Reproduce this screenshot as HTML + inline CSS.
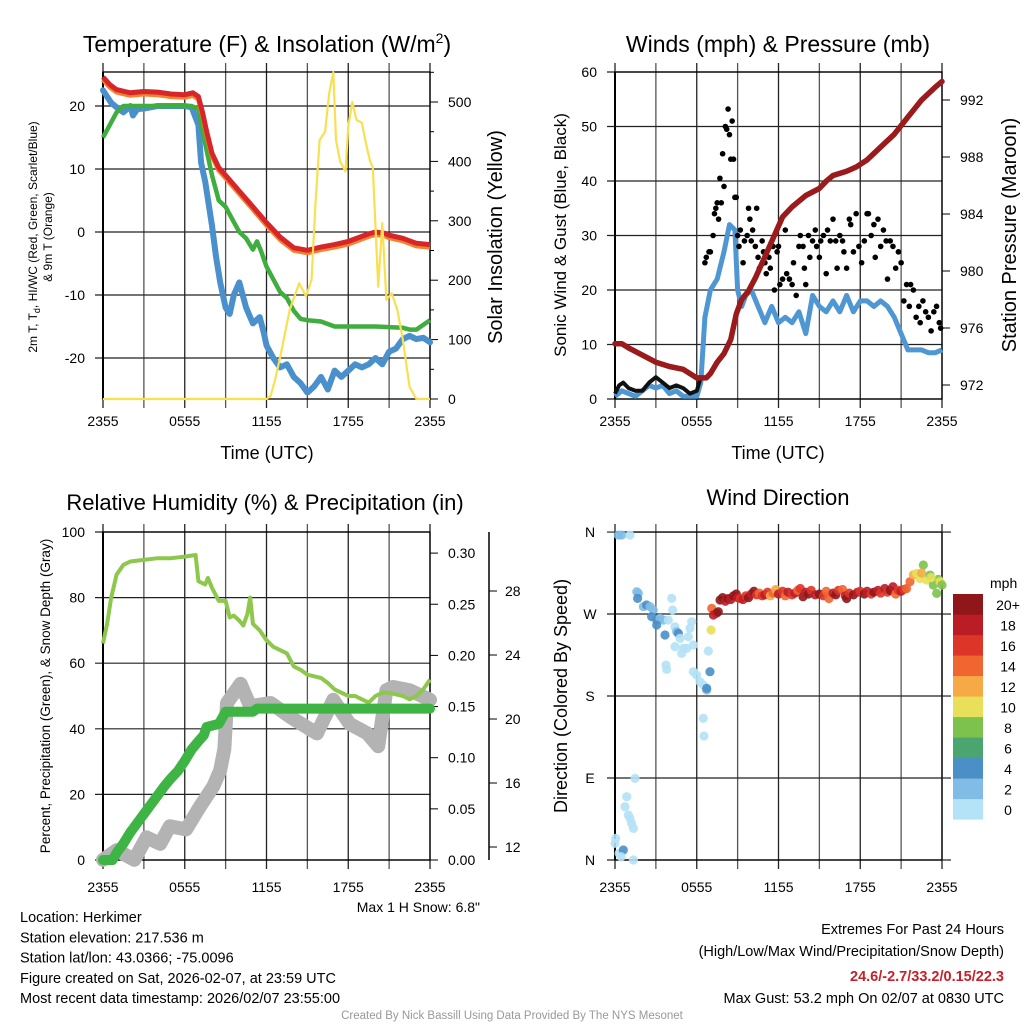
<!DOCTYPE html>
<html><head><meta charset="utf-8"><style>
html,body{margin:0;padding:0;background:#fff;}
svg{display:block;font-family:"Liberation Sans",Arial,sans-serif;}
</style></head><body>
<svg id="fig" width="1024" height="1024" viewBox="0 0 1024 1024">
<rect width="1024" height="1024" fill="#fff"/>
<g id="layer"></g>
</svg>
<script>
// ---------- DATA (hours since 2355 UTC) ----------
const timeLabels = ["2355","0555","1155","1755","2355"];
// Temperature panel
const tempHours = [0,0.5,1,2,3,4,5,6,6.6,7,7.3,7.6,8,8.5,9,10,11,12,13,14,15,16,17,18,19,19.5,20,20.7,21,22,23,24];
const tempVals  = [24.6,23.4,22.6,22.1,22.3,22.2,21.9,21.8,22.1,21.5,19,16,12.5,10.2,9,6.5,4,1.5,-0.8,-2.5,-2.9,-2.4,-2.0,-1.5,-0.7,-0.3,0,-0.2,-0.5,-1.0,-1.8,-2.0];
const dewHours = [0,0.5,1,1.5,2,3,4,5,6,6.5,7,7.5,8,8.5,9,9.5,10,10.5,11,11.3,11.6,12,12.5,13,13.5,14,14.5,15,16,17,18,19,20,21,22,22.5,23,24];
const dewVals  = [15,17,19,20,20,20,20,20,20,20,19.5,14,9,5,4,2,0,-1,-2.8,-1.5,-3,-5.5,-7.5,-9.5,-10.5,-12.5,-13.8,-14,-14.2,-15,-15,-15,-15,-15.1,-15.2,-15.5,-15.5,-14];
const wcHours = [0,0.3,0.6,1,1.5,2,2.2,2.5,3,4,5,6,6.5,7,7.2,7.5,8,8.3,8.6,9,9.3,9.6,10,10.5,11,11.5,11.8,12,12.5,13,13.5,14,14.5,15,15.5,16,16.5,17,17.5,18,18.5,19,19.5,20,20.5,21,21.5,22,22.5,23,23.5,24];
const wcVals  = [22.5,21.5,20.5,19.8,19,20,18.5,19.5,19.6,20,20,20,19.8,17,11,8,1,-4,-8,-12,-13,-10,-8,-12,-14.5,-13.5,-16,-18,-20,-21.5,-21,-23,-24,-25.5,-24.5,-23,-25,-22,-23,-22,-21,-21.5,-21,-20,-21,-19,-18.5,-17,-16.5,-17,-16.8,-17.5];
const solarHours = [0,12,12.3,12.6,13,13.7,14.4,14.9,15.3,15.6,15.9,16.3,16.6,16.9,17.1,17.4,17.8,18.0,18.3,18.6,19,19.3,19.6,19.8,20.0,20.2,20.5,20.8,21.2,21.6,22,22.5,23,24];
const solarVals  = [0,0,5,30,70,150,195,173,200,330,436,450,515,550,436,400,383,460,500,470,465,430,400,390,290,189,296,167,178,150,100,20,0,0];
// Winds panel
const windHours = [0,0.5,1,1.5,2,2.5,3,3.5,4,4.5,5,5.5,6,6.3,6.6,7,7.5,8,8.4,8.8,9,9.3,9.6,10,10.5,11,11.5,12,12.5,13,13.5,14,14.5,15,15.5,16,16.5,17,17.5,18,18.5,19,19.5,20,20.5,21,21.5,22,22.5,23,23.5,24];
const windVals  = [0.5,1.5,1,0.5,1.5,2.5,2,2.5,1,1.5,0.5,0.5,0.5,3,15,20,22,27,32,31,20,17,19,20,17,14,17,14,15,14,16,12,19,17,16,18,16,19,16,18,18,17,18,17,15,12,9,9,9,8.5,8.5,9];
const gustLowHours = [0,0.3,0.6,1,1.5,2,2.5,3,3.5,4,4.5,5,5.5,6,6.3];
const gustLowVals  = [1,2.5,3,2,1.5,1.5,3,4,3,2,2.5,2,1,1.5,4];
const gustHours = [6.6,6.7,6.9,7.0,7.2,7.3,7.4,7.5,7.6,7.7,7.8,7.9,8.0,8.1,8.2,8.3,8.4,8.5,8.6,8.7,8.8,8.9,9.0,9.1,9.2,9.4,9.5,9.7,9.8,9.9,10,10.1,10.3,10.4,10.5,10.6,10.8,10.9,11,11.1,11.3,11.4,11.6,11.7,11.9,12,12.1,12.3,12.5,12.6,12.8,13,13.1,13.3,13.5,13.6,13.8,13.9,14,14.2,14.3,14.5,14.7,14.8,15,15.1,15.3,15.5,15.6,15.8,16,16.2,16.3,16.5,16.7,16.8,17,17.2,17.3,17.5,17.7,17.9,18.1,18.3,18.5,18.6,18.8,19,19.1,19.3,19.5,19.7,19.9,20,20.2,20.4,20.6,20.8,21,21.2,21.4,21.6,21.7,21.9,22.1,22.3,22.4,22.6,22.8,23,23.2,23.4,23.6,23.8,23.9];
const gustVals  = [25,26,27,27,30,34,35,36,33,40.5,36,45,39,50,49.5,53.2,48.5,44,51,44,37,37,30,28,31,25,29,30,35,33,29,31,28,35,26,24,29,27,25,23,26,24,28,20,27,28,21,22,31,23,22,21,25,19,28,30,28,24,21,30,26,29,31,28,26,29,30,23,31,29,33,29,24,30,29,27,24,33,32,27,34,28,25,29,34,34,30,32,26,33,28,31,29,22,29,28,24,27,25,18,21,17,21,20,15,17,14,18,16,15,12.5,16,17,14,13];
const presHours = [0,0.5,1,2,3,4,5,5.5,6,6.7,7,7.5,8,8.5,8.9,9.3,9.8,10.3,11,11.7,12.3,13,14,15,15.5,16,17,17.7,18.5,19.5,20.5,21.5,22.5,23.5,24];
const presVals  = [974.9,974.9,974.6,974.1,973.6,973.3,973.1,972.8,972.5,972.5,972.8,973.6,974.2,975.2,977,978,978.6,979.5,981,982.5,983.8,984.5,985.3,985.8,986.3,986.7,987,987.3,987.8,988.7,989.6,990.8,992,992.9,993.3];
// RH / precip / snow panel
const rhHours = [0,0.3,0.6,1,1.5,2,3,4,5,6,6.8,7,7.5,7.7,8,8.5,9,9.3,9.6,10,10.3,10.6,10.8,11,11.5,12,12.5,13,13.5,14,14.5,15,15.5,16,16.5,17,17.5,18,18.5,19,19.5,20,20.5,21,22,22.5,23,23.5,24];
const rhVals  = [66,72,80,87,90,91,91.5,92,92,92.5,93,85,84,86,83,79,79,74,74.5,73,71.5,75,80,72,70,67,65,64,63,59,58,56.5,56,55.5,54,52,51,50,50,49,48,50,51,51,50,49,50,52,55];
const precipHours = [0,0.7,1,1.5,2,2.5,3,3.5,4,4.5,5,5.5,6,6.5,7,7.4,7.6,8.5,8.8,9,11,11.3,24];
const precipVals  = [0,0,0.007,0.016,0.027,0.036,0.045,0.054,0.063,0.072,0.08,0.087,0.097,0.108,0.116,0.122,0.13,0.133,0.14,0.145,0.145,0.148,0.148];
const snowHours = [0,1,2.3,3.2,4.2,4.9,6.1,7.1,8.1,8.6,8.9,9.1,10.1,10.8,12.3,13.8,15.7,16.9,18.1,19.4,20.2,20.8,21.3,22.5,24];
const snowVals  = [11.2,11.8,11.2,12.6,12.2,13.3,13.1,14.5,15.8,16.8,18.1,21,22.2,20.8,21,20.1,19.1,21.2,19.7,19.1,18.3,21.8,22,21.8,21.2];
// Wind direction panel
const dirHours = [0.24,0.49,1.1,0,0.05,0.3,0.61,0.45,1.35,0.73,0.86,0.98,1.1,1.22,1.35,1.47,1.6,1.71,1.66,2.08,2.32,2.57,2.81,2.69,3.06,3.3,3.55,3.06,3.67,3.91,4.16,4.23,4.4,4.53,4.65,4.77,4.4,5.02,4.89,5.26,5.38,5.5,5.63,5.75,3.74,3.79,5.75,5.99,6.24,6.48,6.73,6.73,6.97,6.85,6.48,6.53,
  7.05,7.1,7.22,7.46,7.58,7.71,7.9,8.1,8.3,8.5,8.7,8.9,9.0,9.2,9.4,9.6,9.8,10,10.2,10.4,10.6,10.8,11,11.2,11.4,11.6,11.8,12,12.3,12.5,12.7,13,13.2,13.4,13.6,13.8,14,14.2,14.4,14.7,15,15.3,15.5,15.7,16,16.2,16.4,16.7,16.9,17,17.2,17.5,17.8,18,18.3,18.5,18.8,19,19.3,19.5,19.8,20,20.2,20.4,20.6,20.8,21,21.2,21.4,
  21.65,21.9,22.14,22.39,22.63,22.87,23.12,23.36,23.61,23.73,23.85,24,22.5,23.2];
const dirDeg = [356.7,356.7,356.7,18.3,23.8,7.3,11,3.6,0,58.5,69.5,49.4,45.7,40.2,34.7,89.6,294.5,292.7,287.2,278.1,279.9,278.1,274.4,267.1,263.4,265.3,263.4,257.9,247,263.4,287.2,274.4,256.1,250.6,248.8,243.3,234.2,232.3,226.8,232.3,245.1,254.3,261.6,236,214,209.3,206.7,203.1,195.7,192.1,186.6,188.4,206.7,229.4,155.5,136.1,
  252.5,276.2,268.9,271,272.5,285.4,288,284,287,286,290,292,288,287,286,290,288,292,295,291,293,290,291,294,290,293,297,292,295,290,294,291,293,296,298,289,294,292,296,291,292,290,295,287,293,291,296,297,290,287,293,291,294,295,292,295,292,294,296,293,298,294,296,300,292,296,295,297,298,
  305.5,313,314.7,309,323.8,307.4,312.8,301.9,292.7,308,305.5,301.9,315,310];
const dirSpeed = [2,2,0,0,0,0,4,0,0,0,0,0,0,0,0,0,2,2,4,2,4,2,2,4,4,2,2,4,4,0,0,0,0,2,4,0,0,0,0,0,0,0,0,0,0,0,0,0,0,0,2,4,4,0,0,0,
  10,14,18,18,20,20,20,18,20,18,20,20,18,16,18,16,20,18,20,16,14,16,18,16,12,14,12,18,16,14,18,16,18,14,16,20,18,20,16,18,20,16,14,14,18,20,16,14,18,20,16,20,18,16,20,18,16,20,18,16,18,16,20,18,14,16,18,16,14,
  14,12,10,10,8,10,8,8,8,8,10,8,12,10];
const speedBins = ["0","2","4","6","8","10","12","14","16","18","20+"];
const binColors = ["#b4e2f6","#80bce5","#4b8fc7","#4aa570","#7cc24c","#e8e05a","#f6aa45","#ef6630","#de3529","#bb1d26","#8f1619"];

// ---------- helpers ----------
const NS="http://www.w3.org/2000/svg";
const L=document.getElementById('layer');
function el(tag,attrs,parent){const e=document.createElementNS(NS,tag);for(const k in attrs)e.setAttribute(k,attrs[k]);(parent||L).appendChild(e);return e;}
function txt(x,y,s,size,anchor,extra){const t=el('text',Object.assign({x:x,y:y,'font-size':size,'text-anchor':anchor||'start',fill:'#000'},extra||{}));t.textContent=s;return t;}
function linePath(xs,ys,fx,fy){return xs.map((h,i)=>(i?'L':'M')+fx(h).toFixed(1)+' '+fy(ys[i]).toFixed(1)).join(' ');}

function panel(x0,x1,y0,y1,gridVals,fy,labelOff,name,gridTop){
  const g=el('g',{});
  
  
  for(let k=0;k<=8;k++){const x=x0+k*(x1-x0)/8;
    el('line',{x1:x,x2:x,y1:gridTop,y2:y1+9,stroke:k%2?'#555':'#222','stroke-width':1.3},g);}
  gridVals.forEach(v=>{el('line',{x1:x0-8,x2:x1,y1:fy(v),y2:fy(v),stroke:'#222','stroke-width':1.2},g);});
  el('rect',{x:x0,y:y0,width:x1-x0,height:y1-y0,fill:'none',stroke:'#000','stroke-width':1.3},g);
  el('line',{x1:x0,x2:x0,y1:y0,y2:y1,stroke:'#000','stroke-width':2},g);
  timeLabels.forEach((s,i)=>{const t=txt(x0+i*(x1-x0)/4,y1+labelOff,s,14,'middle');
    
    });
}

// ---------- Panel 1 Temperature ----------
const X1=h=>103+h*13.625;
const YT=v=>232-v*6.3;
const YS=v=>399-v*0.594;
panel(103,430,72,399,[20,10,0,-10,-20],YT,27,'temperature',63);
[20,10,0,-10,-20].forEach(v=>{const t=txt(85,YT(v)+5,String(v),14,'end');});
[0,100,200,300,400,500].forEach(v=>{el('line',{x1:430,x2:438,y1:YS(v),y2:YS(v),stroke:'#000'});const t=txt(448,YS(v)+5,String(v),14,'start');});
[50,150,250,350,450,550].forEach(v=>{el('line',{x1:430,x2:434,y1:YS(v),y2:YS(v),stroke:'#000'});});
let p;
p=el('path',{d:linePath(wcHours,wcVals,X1,YT),fill:'none',stroke:'#4a90cc','stroke-width':6,'stroke-linejoin':'round','stroke-linecap':'round'});

p=el('path',{d:linePath(dewHours,dewVals,X1,YT),fill:'none',stroke:'#3fae3f','stroke-width':4.5,'stroke-linejoin':'round'});

p=el('path',{d:linePath(tempHours,tempVals.map(v=>v-0.4),X1,YT),fill:'none',stroke:'#f4812e','stroke-width':5,'stroke-linejoin':'round'});

p=el('path',{d:linePath(tempHours,tempVals,X1,YT),fill:'none',stroke:'#d7262a','stroke-width':5,'stroke-linejoin':'round'});

p=el('path',{d:linePath(solarHours,solarVals,X1,YS),fill:'none',stroke:'#f9e050','stroke-width':2.2,'stroke-linejoin':'round'});

let t=txt(267,52,'',23,'middle');t.innerHTML='Temperature (F) &amp; Insolation (W/m<tspan dy="-9" font-size="14">2</tspan><tspan dy="9">)</tspan>';

t=txt(267,459,'Time (UTC)',18,'middle');
t=el('text',{transform:'translate(37,237) rotate(-90)','font-size':12,'text-anchor':'middle'});
t.innerHTML='2m T, T<tspan dy="3" font-size="9">d</tspan><tspan dy="-3">, HI/WC (Red, Green, Scarlet/Blue)</tspan>';

t=el('text',{transform:'translate(52,237) rotate(-90)','font-size':12,'text-anchor':'middle'});t.textContent='& 9m T (Orange)';

t=el('text',{transform:'translate(502,237) rotate(-90)','font-size':20,'text-anchor':'middle'});t.textContent='Solar Insolation (Yellow)';


// ---------- Panel 2 Winds ----------
const X2=h=>615+h*13.625;
const YW=v=>399-v*5.45;
const YP=v=>385-(v-972)*14.25;
panel(615,942,72,399,[60,50,40,30,20,10,0],YW,27,'winds',63);
[0,10,20,30,40,50,60].forEach(v=>{const t=txt(597,YW(v)+5,String(v),14,'end');});
[972,976,980,984,988,992].forEach(v=>{el('line',{x1:942,x2:950,y1:YP(v),y2:YP(v),stroke:'#000'});const t=txt(960,YP(v)+5,String(v),14,'start');});
p=el('path',{d:linePath(windHours,windVals,X2,YW),fill:'none',stroke:'#4f97d2','stroke-width':5,'stroke-linejoin':'round'});

p=el('path',{d:linePath(gustLowHours,gustLowVals,X2,YW),fill:'none',stroke:'#111','stroke-width':4,'stroke-linejoin':'round'});

gustHours.forEach((h,i)=>{const c=el('circle',{cx:X2(h),cy:YW(gustVals[i]),r:2.8,fill:'#000'});
  
  });
p=el('path',{d:linePath(presHours,presVals,X2,YP),fill:'none',stroke:'#9b1a1c','stroke-width':5.5,'stroke-linejoin':'round','stroke-linecap':'round'});

t=txt(778,52,'Winds (mph) & Pressure (mb)',23,'middle');
t=txt(778,459,'Time (UTC)',18,'middle');
t=el('text',{transform:'translate(566,235) rotate(-90)','font-size':17,'text-anchor':'middle'});t.textContent='Sonic Wind & Gust (Blue, Black)';

t=el('text',{transform:'translate(1016,235) rotate(-90)','font-size':20,'text-anchor':'middle'});t.textContent='Station Pressure (Maroon)';


// ---------- Panel 3 RH ----------
const YR=v=>860-v*3.28;
const YPc=v=>860-v*1023;
const YSn=v=>847-(v-12)*16;
panel(103,430,532,860,[100,80,60,40,20,0],YR,32,'humidity',524);
[0,20,40,60,80,100].forEach(v=>{const t=txt(85,YR(v)+5,String(v),14,'end');});
[0,0.05,0.10,0.15,0.20,0.25,0.30].forEach(v=>{el('line',{x1:430,x2:438,y1:YPc(v),y2:YPc(v),stroke:'#000'});const t=txt(448,YPc(v)+5,v.toFixed(2),14,'start');});
el('line',{x1:489,x2:489,y1:532,y2:860,stroke:'#000','stroke-width':1.5});
[12,16,20,24,28].forEach(v=>{el('line',{x1:489,x2:497,y1:YSn(v),y2:YSn(v),stroke:'#000'});const t=txt(505,YSn(v)+5,String(v),14,'start');});
p=el('path',{d:linePath(snowHours,snowVals,X1,YSn),fill:'none',stroke:'#b3b3b3','stroke-width':14,'stroke-linejoin':'round','stroke-linecap':'round'});

p=el('path',{d:linePath(rhHours,rhVals,X1,YR),fill:'none',stroke:'#8dc84c','stroke-width':4,'stroke-linejoin':'round'});

p=el('path',{d:linePath(precipHours,precipVals,X1,YPc),fill:'none',stroke:'#3db444','stroke-width':10,'stroke-linejoin':'round','stroke-linecap':'round'});

t=txt(265,510,'Relative Humidity (%) & Precipitation (in)',22,'middle');
t=el('text',{transform:'translate(50,696) rotate(-90)','font-size':13.5,'text-anchor':'middle'});t.textContent='Percent, Precipitation (Green), & Snow Depth (Gray)';

t=txt(480,912,'Max 1 H Snow: 6.8"',14,'end');

// ---------- Panel 4 Wind Direction ----------
const YD=v=>860-v*0.911;
panel(615,942,532,860,[0,90,180,270,360],YD,32,'direction',524);
[0,90,180,270,360].forEach(v=>el('line',{x1:942,x2:951,y1:YD(v),y2:YD(v),stroke:'#222','stroke-width':1.2}));
[["N",0],["E",90],["S",180],["W",270],["N",360]].forEach(a=>{const t=txt(590,YD(a[1])+5,a[0],14,'middle');});
dirHours.forEach((h,i)=>{const b=Math.min(10,Math.round(dirSpeed[i]/2));
  const c=el('circle',{cx:X2(h),cy:YD(dirDeg[i]),r:4.6,fill:binColors[b],'fill-opacity':0.9});
  
  });
t=txt(778,505,'Wind Direction',22,'middle');
t=el('text',{transform:'translate(567,696) rotate(-90)','font-size':18,'text-anchor':'middle'});t.textContent='Direction (Colored By Speed)';

t=txt(990,588,'mph',14,'start');
speedBins.forEach((s,i)=>{const k=10-i;const y=594+k*20.5;
  const r=el('rect',{x:953,y:y,width:30,height:20.6,fill:binColors[i]});
  
  
  const t=txt(1008,y+16,s,14,'middle');
  
  });

// ---------- footer text ----------
const info=["Location: Herkimer","Station elevation: 217.536 m","Station lat/lon: 43.0366; -75.0096","Figure created on Sat, 2026-02-07, at 23:59 UTC","Most recent data timestamp: 2026/02/07 23:55:00"];
info.forEach((s,i)=>{const t=txt(20,922+i*20.3,s,14.5,'start');});
t=txt(1004,934,'Extremes For Past 24 Hours',14.5,'end');
t=txt(1004,956,'(High/Low/Max Wind/Precipitation/Snow Depth)',14.5,'end');
t=txt(1004,981,'24.6/-2.7/33.2/0.15/22.3',14.5,'end',{fill:'#c8202a','font-weight':'bold'});
t=txt(1004,1003,'Max Gust: 53.2 mph On 02/07 at 0830 UTC',14.5,'end');
t=txt(512,1019,'Created By Nick Bassill Using Data Provided By The NYS Mesonet',11.5,'middle',{fill:'#999'});
</script>
</body></html>
